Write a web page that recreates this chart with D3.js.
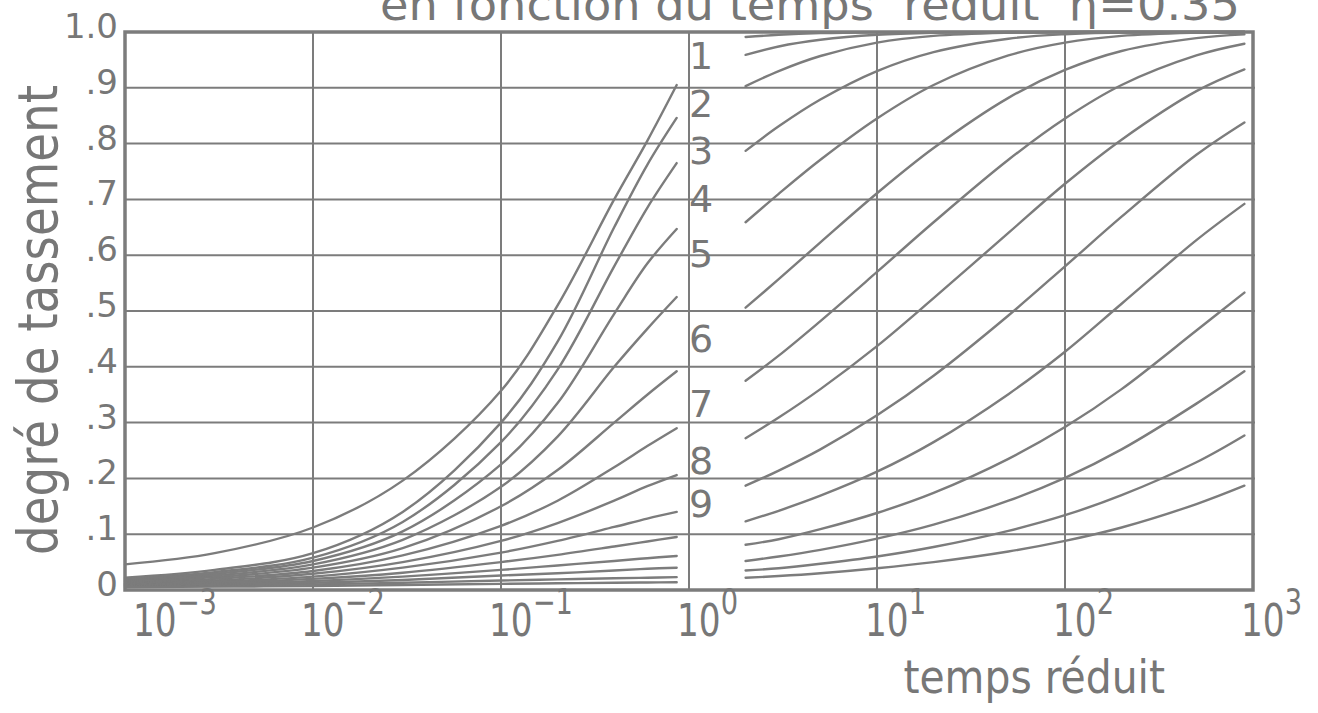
<!DOCTYPE html>
<html><head><meta charset="utf-8">
<script src="https://cdn.jsdelivr.net/npm/d3@7"></script>
<style>
html,body{margin:0;padding:0;background:#fff;}
svg{display:block;}
text{font-family:"DejaVu Sans",sans-serif;fill:#777;}
</style></head><body>
<svg id="chart" width="1318" height="713"></svg>
<script>
// Reduced-time sample points for the two branches of every curve
const tLeft  = [0.001, 0.003, 0.01, 0.03, 0.1, 0.2, 0.4, 0.6, 0.86];
const tRight = [2, 3, 5, 10, 20, 50, 100, 200, 500, 900];

// Settlement degree, early branch (one row per curve, top to bottom)
const leftCurves = [
  [0.046, 0.066, 0.112, 0.196, 0.357, 0.510, 0.700, 0.805, 0.905],
  [0.022, 0.036, 0.066, 0.140, 0.300, 0.445, 0.650, 0.762, 0.846],
  [0.020, 0.032, 0.058, 0.122, 0.265, 0.395, 0.580, 0.685, 0.765],
  [0.018, 0.029, 0.052, 0.105, 0.225, 0.335, 0.495, 0.585, 0.647],
  [0.016, 0.026, 0.046, 0.090, 0.185, 0.275, 0.400, 0.468, 0.525],
  [0.014, 0.023, 0.040, 0.075, 0.150, 0.215, 0.300, 0.350, 0.392],
  [0.012, 0.020, 0.034, 0.062, 0.115, 0.160, 0.220, 0.258, 0.290],
  [0.011, 0.017, 0.029, 0.050, 0.088, 0.120, 0.160, 0.186, 0.206],
  [0.010, 0.015, 0.024, 0.040, 0.067, 0.088, 0.113, 0.128, 0.140],
  [0.009, 0.013, 0.020, 0.031, 0.050, 0.063, 0.078, 0.087, 0.095],
  [0.008, 0.011, 0.016, 0.024, 0.036, 0.044, 0.052, 0.057, 0.061],
  [0.007, 0.009, 0.013, 0.018, 0.026, 0.030, 0.035, 0.038, 0.040],
  [0.006, 0.007, 0.010, 0.013, 0.017, 0.019, 0.021, 0.022, 0.023],
  [0.005, 0.006, 0.007, 0.009, 0.011, 0.012, 0.013, 0.0135, 0.014]
];

// Settlement degree, late branch
const rightCurves = [
  [0.991, 0.995, 0.998, 0.9996, 1.000, 1.000, 1.000, 1.000, 1.000, 1.000],
  [0.959, 0.974, 0.986, 0.995, 0.9987, 0.9999, 1.000, 1.000, 1.000, 1.000],
  [0.903, 0.930, 0.957, 0.981, 0.993, 0.9986, 0.9997, 1.000, 1.000, 1.000],
  [0.787, 0.831, 0.879, 0.930, 0.964, 0.988, 0.996, 0.999, 0.9999, 1.000],
  [0.659, 0.710, 0.771, 0.845, 0.905, 0.958, 0.981, 0.993, 0.9986, 0.9996],
  [0.506, 0.557, 0.623, 0.711, 0.792, 0.882, 0.932, 0.966, 0.989, 0.9957],
  [0.375, 0.420, 0.482, 0.570, 0.659, 0.771, 0.845, 0.905, 0.958, 0.979],
  [0.272, 0.309, 0.360, 0.437, 0.523, 0.640, 0.728, 0.807, 0.894, 0.933],
  [0.187, 0.214, 0.252, 0.313, 0.384, 0.492, 0.580, 0.669, 0.780, 0.838],
  [0.123, 0.142, 0.169, 0.212, 0.265, 0.351, 0.427, 0.513, 0.627, 0.692],
  [0.081, 0.091, 0.109, 0.138, 0.174, 0.235, 0.292, 0.360, 0.465, 0.533],
  [0.052, 0.060, 0.072, 0.092, 0.117, 0.160, 0.201, 0.252, 0.334, 0.392],
  [0.035, 0.039, 0.047, 0.060, 0.077, 0.106, 0.134, 0.170, 0.229, 0.277],
  [0.022, 0.025, 0.030, 0.039, 0.050, 0.069, 0.088, 0.112, 0.154, 0.187]
];

const yTicks = [0, 0.1, 0.2, 0.3, 0.4, 0.5, 0.6, 0.7, 0.8, 0.9, 1.0];
const yTickLabels = ["0", ".1", ".2", ".3", ".4", ".5", ".6", ".7", ".8", ".9", "1.0"];
const xTicks = [1e-3, 1e-2, 1e-1, 1e0, 1e1, 1e2, 1e3];
const xTickExponents = ["-3", "-2", "-1", "0", "1", "2", "3"];
const curveLabels = ["1", "2", "3", "4", "5", "6", "7", "8", "9"];
const curveLabelLevels = [0.959, 0.873, 0.789, 0.703, 0.604, 0.452, 0.335, 0.233, 0.156];

const ink = "#7c7c7c";
const svg = d3.select("#chart");
const x = d3.scaleLog().domain([1e-3, 1e3]).range([125, 1253]);
const y = d3.scaleLinear().domain([0, 1]).range([590, 32]);

// grid
const grid = svg.append("g").attr("stroke", ink).attr("stroke-width", 2).attr("fill", "none");
grid.selectAll("line.h").data(yTicks.slice(1, -1)).join("line")
  .attr("x1", x.range()[0]).attr("x2", x.range()[1] + 2)
  .attr("y1", d => y(d)).attr("y2", d => y(d));
grid.selectAll("line.v").data(xTicks.slice(1, -1)).join("line")
  .attr("x1", d => x(d)).attr("x2", d => x(d))
  .attr("y1", y(1)).attr("y2", y(0));

// curves
const line = d3.line().x(d => x(d[0])).y(d => y(d[1])).curve(d3.curveCatmullRom.alpha(0.5));
const curves = svg.append("g").attr("stroke", ink).attr("stroke-width", 2.4).attr("fill", "none")
  .attr("stroke-linecap", "round");
leftCurves.forEach(vals => curves.append("path").attr("d", line(tLeft.map((t, i) => [t, vals[i]]))));
rightCurves.forEach(vals => curves.append("path").attr("d", line(tRight.map((t, i) => [t, vals[i]]))));

// frame
svg.append("rect").attr("x", x.range()[0]).attr("y", y(1))
  .attr("width", x.range()[1] - x.range()[0]).attr("height", y(0) - y(1))
  .attr("fill", "none").attr("stroke", ink).attr("stroke-width", 3.5);

// y tick labels
svg.append("g").selectAll("text").data(yTicks).join("text")
  .attr("x", 118).attr("y", d => y(d) + 6)
  .attr("text-anchor", "end").attr("font-size", 34)
  .text((d, i) => yTickLabels[i]);

// x tick labels: 10 with exponent
const xl = svg.append("g");
xTicks.forEach((t, i) => {
  const g = xl.append("g").attr("transform", `translate(${x(t) + (i === 0 ? 8 : -12)},636) scale(0.78,1)`);
  const tx = g.append("text").attr("font-size", 44);
  tx.append("tspan").text("10");
  tx.append("tspan").attr("dy", -22).attr("font-size", 35).text(xTickExponents[i].replace("-", "\u2212"));
});

// curve numbers
svg.append("g").selectAll("text").data(curveLabels).join("text")
  .attr("x", 689).attr("y", (d, i) => y(curveLabelLevels[i]) + 14)
  .attr("font-size", 38).text(d => d);

// axis titles, drawn in a condensed style
svg.append("text").attr("transform", "translate(1165,693) scale(0.87,1)").attr("text-anchor", "end")
  .attr("font-size", 47).text("temps réduit");
svg.append("text").attr("transform", "translate(57,320) rotate(-90) scale(0.835,1)").attr("text-anchor", "middle")
  .attr("font-size", 56).text("degré de tassement");

// title (upper part runs off the top edge)
svg.append("text").attr("x", 380).attr("y", 20).attr("font-size", 44)
  .attr("textLength", 860).attr("lengthAdjust", "spacingAndGlyphs")
  .style("white-space", "pre")
  .text("en fonction du temps  réduit  \u03b7=0.35");
</script>
</body></html>
